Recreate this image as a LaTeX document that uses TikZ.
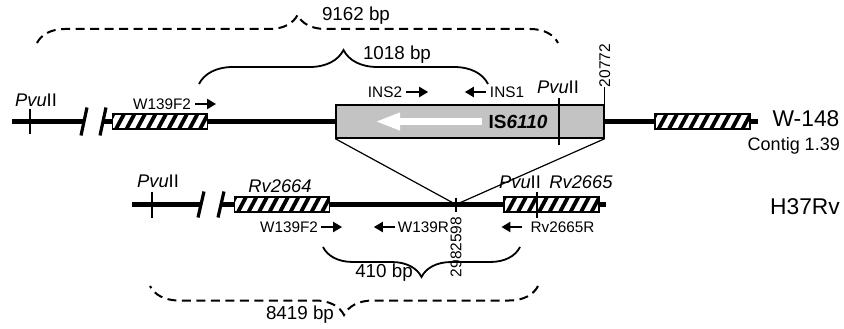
\documentclass[tikz,border=0pt]{standalone}
\usepackage{fontspec}
\setmainfont{Liberation Sans}
\usetikzlibrary{positioning, arrows.meta, decorations.pathreplacing}
\definecolor{isgray}{HTML}{C3C3C3}

\begin{document}
\begin{tikzpicture}[
      x=1pt, y=-1pt,
      every node/.style={inner sep=0pt, font=\fontsize{15.3}{17}\selectfont},
      dna/.style={line width=4.5pt},
      cut/.style={line width=3.2pt},
      site/.style={line width=1.4pt},
      hatchbox/.style={draw, line width=1.4pt, fill=white, minimum width=95pt, minimum height=15pt,
        path picture={\foreach \i in {0,...,10}
          \draw[line width=3.8pt] ([xshift=\i*10.5pt-7pt]path picture bounding box.south west) -- ++(8pt,15pt);}},
      isbox/.style={draw, line width=1.4pt, fill=isgray, minimum width=268pt, minimum height=33pt},
      primer/.style={line width=2pt, -{Triangle[length=9pt,width=10pt]}},
      bp/.style={font=\fontsize{18.8}{21}\selectfont},
      enz/.style={font=\fontsize{18.3}{21}\selectfont},
      strain/.style={font=\fontsize{22.8}{26}\selectfont},
      genpos/.style={font=\fontsize{15.5}{17}\selectfont, rotate=90},
      span/.style={line width=1.8pt, decorate, decoration={brace, amplitude=#1}},
      gap/.style={span=#1, line width=2pt, dash pattern=on 9pt off 5.5pt},
    ]
    \useasboundingbox (0,0) rectangle (844,329);

    % W-148 (top)
    \coordinate (tL) at (12,121.5);
    \coordinate (brkA) at (84,121.5);
    \coordinate (brkB) at (103,121.5);
    \coordinate (tR) at (758,121.5);
    \node[hatchbox] (w1) at (160,121.5) {};
    \node[isbox] (is) at (470,121.5) {};
    \node[hatchbox] (w2) at (702.5,121.5) {};
    \draw[dna] (tL) -- (brkA);
    \draw[dna] (brkB) -- (w1.west);
    \draw[dna] (w1.east) -- (is.west);
    \draw[dna] (is.east) -- (w2.west);
    \draw[dna] (w2.east) -- (tR);
    \draw[cut] ([xshift=3pt,yshift=14pt]brkA) -- ([xshift=-3pt,yshift=-14pt]brkA);
    \draw[cut] ([xshift=3pt,yshift=14pt]brkB) -- ([xshift=-3pt,yshift=-14pt]brkB);

    \coordinate (pvA) at (30,121.5);
    \draw[site] ([yshift=12pt]pvA) -- ([yshift=-12pt]pvA);
    \node[enz] (pvAl) at (36,100) {\textit{Pvu}II};

    \coordinate (isA) at (482,121.5);
    \coordinate (isB) at (375,121.5);
    \draw[white, line width=7pt, -{Triangle[length=25pt,width=16pt]}] (isA) -- (isB);
    \node[font=\bfseries\fontsize{19}{21}\selectfont] (isl) at (518,121.5) {IS\textit{6110}};
    \coordinate (pvB) at (559,121.5);
    \draw[site] ([yshift=23pt]pvB) -- ([yshift=-23pt]pvB);
    \node[enz] (pvBl) at (558,87) {\textit{Pvu}II};
    \draw[site] (is.north east) -- ++(0,-17) coordinate (endA);
    \node[genpos, anchor=west] (p20772) at (endA) {20772};

    \node[strain] (w148) at (806,119) {W-148};
    \node[font=\fontsize{18}{20}\selectfont, anchor=east] (contig) at (840,146) {Contig 1.39};

    \node (f2a) at (162,104) {W139F2};
    \draw[primer] ([xshift=4pt]f2a.east) -- ++(21,0);
    \node (ins2) at (385,92) {INS2};
    \draw[primer] ([xshift=4pt]ins2.east) -- ++(22,0);
    \node (ins1) at (507,92) {INS1};
    \draw[primer] ([xshift=-4pt]ins1.west) -- ++(-21,0);

    \coordinate (b1L) at (199,84);
    \coordinate (b1R) at (488,84);
    \draw[span=34pt] (b1L) -- (b1R);
    \node[bp] (l1018) at (397,55) {1018 bp};
    \coordinate (b2L) at (37,43);
    \coordinate (b2R) at (558,43);
    \draw[gap=28pt] (b2L) -- (b2R);
    \node[bp] (l9162) at (356,16) {9162 bp};

    % H37Rv (bottom)
    \coordinate (bL) at (132,204.5);
    \coordinate (brkC) at (201,204.5);
    \coordinate (brkD) at (221,204.5);
    \coordinate (ins) at (456,204.5);
    \coordinate (bR) at (606,204.5);
    \node[hatchbox] (rv64) at (282,204.5) {};
    \node[hatchbox] (rv65) at (551.5,204.5) {};
    \draw[dna] (bL) -- (brkC);
    \draw[dna] (brkD) -- (rv64.west);
    \draw[dna] (rv64.east) -- (rv65.west);
    \draw[dna] (rv65.east) -- (bR);
    \draw[cut] ([xshift=3pt,yshift=13pt]brkC) -- ([xshift=-3pt,yshift=-13pt]brkC);
    \draw[cut] ([xshift=3pt,yshift=13pt]brkD) -- ([xshift=-3pt,yshift=-13pt]brkD);

    \coordinate (pvC) at (152,204.5);
    \draw[site] ([yshift=13pt]pvC) -- ([yshift=-13pt]pvC);
    \node[enz] (pvCl) at (158,181) {\textit{Pvu}II};
    \coordinate (pvD) at (537,204.5);
    \draw[site] ([yshift=13pt]pvD) -- ([yshift=-13pt]pvD);
    \node[enz] (pvDl) at (520,182) {\textit{Pvu}II};
    \node[enz] (rv64l) at (280,186) {\textit{Rv2664}};
    \node[enz] (rv65l) at (581,182) {\textit{Rv2665}};

    \draw[site] ([yshift=7pt]ins) -- ([yshift=-7pt]ins);
    \node[genpos] (p2982598) at (456,247) {2982598};
    \draw[line width=1.2pt] (is.south west) -- (ins) -- (is.south east);

    \node[strain] (h37) at (805,207) {H37Rv};

    \node (f2b) at (289,227) {W139F2};
    \draw[primer] ([xshift=3pt]f2b.east) -- ++(21,0);
    \node (w139r) at (423.5,227) {W139R};
    \draw[primer] ([xshift=-3pt]w139r.west) -- ++(-21,0);
    \node (rv65r) at (562.5,227) {Rv2665R};
    \draw[primer] ([xshift=-8pt]rv65r.west) -- ++(-21,0);

    \coordinate (b3L) at (323,247);
    \coordinate (b3R) at (520,247);
    \draw[span=30pt] (b3R) -- (b3L);
    \node[bp] (l410) at (384,273) {410 bp};
    \coordinate (b4L) at (150,286);
    \coordinate (b4R) at (538,286);
    \draw[gap=29pt] (b4R) -- (b4L);
    \node[bp] (l8419) at (300,315) {8419 bp};
  \end{tikzpicture}
\end{document}
